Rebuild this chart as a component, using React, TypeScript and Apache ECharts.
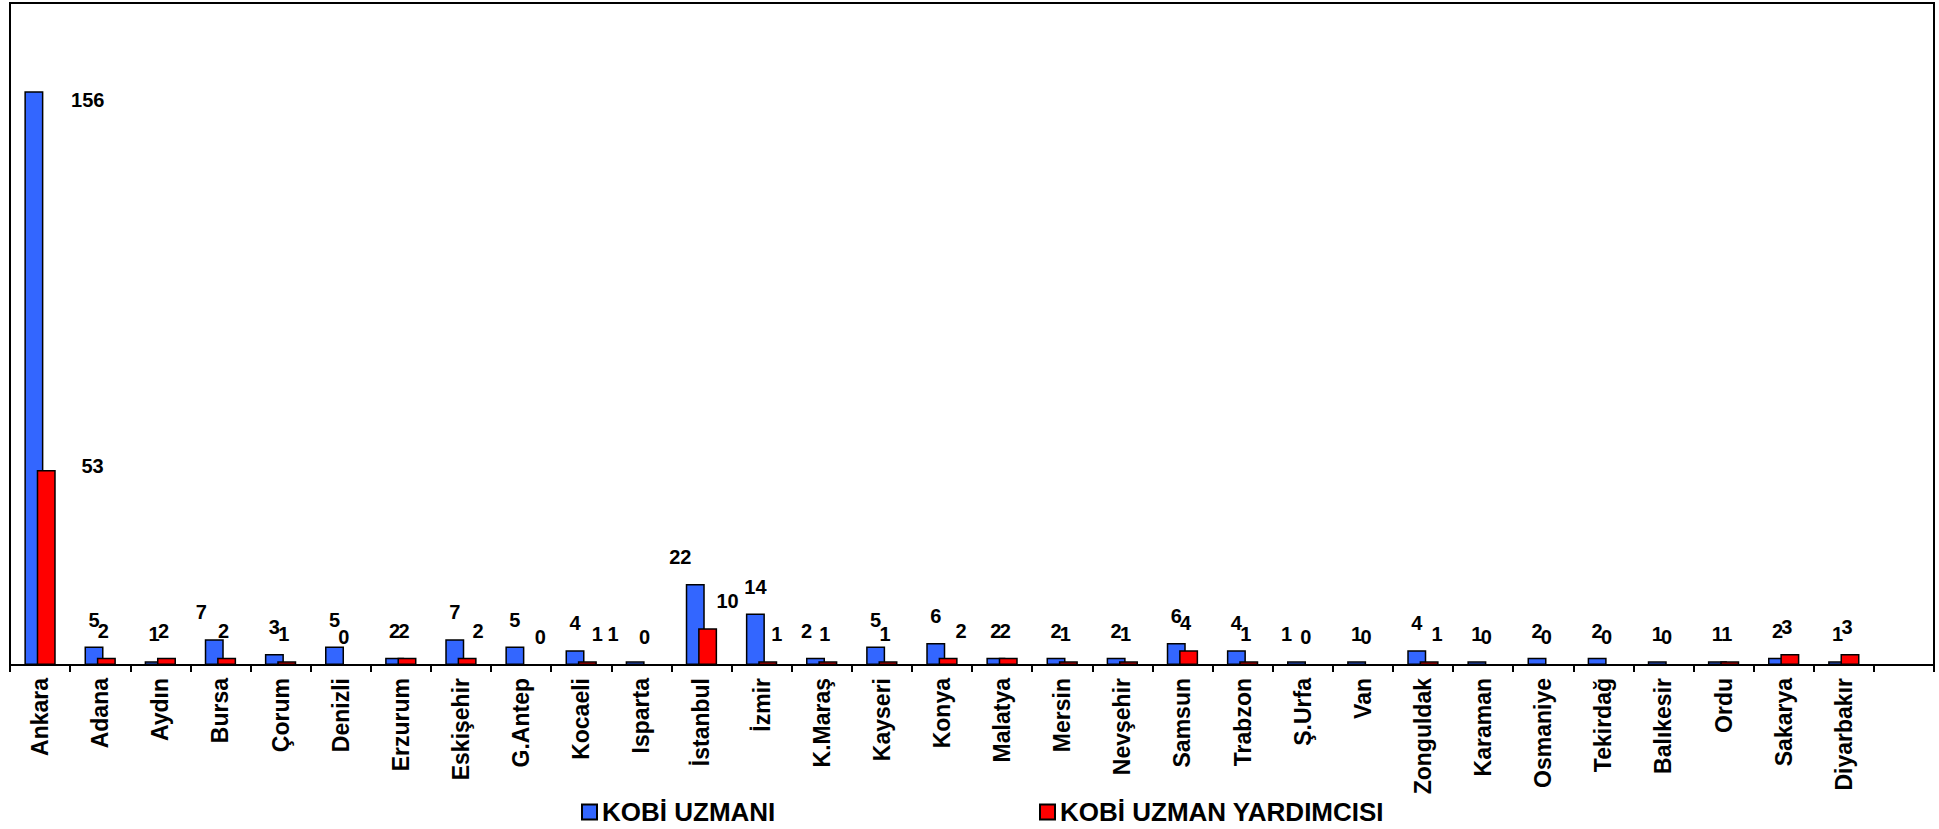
import React, { useEffect, useRef } from "react";
import * as echarts from "echarts";

const cities = [
  "Ankara", "Adana", "Aydın", "Bursa", "Çorum", "Denizli", "Erzurum", "Eskişehir",
  "G.Antep", "Kocaeli", "Isparta", "İstanbul", "İzmir", "K.Maraş", "Kayseri", "Konya",
  "Malatya", "Mersin", "Nevşehir", "Samsun", "Trabzon", "Ş.Urfa", "Van", "Zonguldak",
  "Karaman", "Osmaniye", "Tekirdağ", "Balıkesir", "Ordu", "Sakarya", "Diyarbakır",
];
const kobiUzmani = [156, 5, 1, 7, 3, 5, 2, 7, 5, 4, 1, 22, 14, 2, 5, 6, 2, 2, 2, 6, 4, 1, 1, 4, 1, 2, 2, 1, 1, 2, 1];
const kobiUzmanYardimcisi = [53, 2, 2, 2, 1, 0, 2, 2, 0, 1, 0, 10, 1, 1, 1, 2, 2, 1, 1, 4, 1, 0, 0, 1, 0, 0, 0, 0, 1, 3, 3];

const seriesNames = ["KOBİ UZMANI", "KOBİ UZMAN YARDIMCISI"];

// label nudges (horizontal, px) imitating the original label placement
const blueShift: Record<number, number> = { 3: -13, 10: -22, 11: -15, 13: -9, 21: -10 };
const redShift: Record<number, number> = { 7: 11, 8: 13, 9: 10, 11: 20, 12: 9, 15: 13, 23: 8 };

const FONT = "'Liberation Sans', Arial, Helvetica, sans-serif";

export default function App() {
  const ref = useRef<HTMLDivElement>(null);

  useEffect(() => {
    if (!ref.current) return;
    const chart = echarts.init(ref.current, null, { renderer: "svg" });

    const blueData = kobiUzmani.map((v, i) => {
      if (i === 0) {
        return { value: v, label: { position: [80, -1], align: "right", verticalAlign: "top", offset: [0, 0] } };
      }
      return { value: v, label: { offset: [blueShift[i] ?? 0, 0] } };
    });
    const redData = kobiUzmanYardimcisi.map((v, i) => {
      if (i === 0) {
        return { value: v, label: { position: [67, -4], align: "right", verticalAlign: "middle", offset: [0, 0] } };
      }
      return { value: v, label: { offset: [redShift[i] ?? -3, 0] } };
    });

    const labelStyle = {
      show: true,
      position: "top",
      distance: 17,
      fontSize: 20,
      fontWeight: "bold",
      color: "#000",
      fontFamily: FONT,
    };

    const legendCommon = {
      top: 799,
      padding: 0,
      icon: "rect",
      itemWidth: 15,
      itemHeight: 15,
      itemGap: 6,
      itemTextGap: 6,
      textStyle: { fontSize: 26, fontWeight: "bold", color: "#000", fontFamily: FONT },
    };

    chart.setOption({
      animation: false,
      backgroundColor: "#ffffff",
      textStyle: { fontFamily: FONT },
      grid: {
        left: 10,
        right: 5,
        top: 3,
        bottom: 164,
        show: true,
        borderColor: "#000",
        borderWidth: 2,
        backgroundColor: "transparent",
      },
      legend: [
        { ...legendCommon, data: [seriesNames[0]], left: 581 },
        { ...legendCommon, data: [seriesNames[1]], left: 1039 },
      ],
      xAxis: {
        type: "category",
        data: [...cities, ""],
        axisLine: { lineStyle: { color: "#000", width: 2 } },
        axisTick: { show: true, length: 7, lineStyle: { color: "#000", width: 2 } },
        axisLabel: {
          rotate: 90,
          interval: 0,
          margin: 13,
          fontSize: 23,
          fontWeight: "bold",
          color: "#000",
          fontFamily: FONT,
        },
      },
      yAxis: {
        type: "value",
        min: 0,
        max: 180,
        interval: 20,
        axisLine: { show: false },
        axisTick: { show: false },
        axisLabel: { show: false },
        splitLine: { show: false },
      },
      series: [
        {
          name: seriesNames[0],
          type: "bar",
          barWidth: 19,
          barGap: "-35%",
          data: blueData,
          itemStyle: { color: "#3366FF", borderColor: "#000", borderWidth: 1.5 },
          label: labelStyle,
        },
        {
          name: seriesNames[1],
          type: "bar",
          barWidth: 19,
          barGap: "-35%",
          data: redData,
          itemStyle: { color: "#FF0000", borderColor: "#000", borderWidth: 1.5 },
          label: labelStyle,
        },
      ],
    });

    return () => chart.dispose();
  }, []);

  return (
    <div
      ref={ref}
      style={{ position: "fixed", left: 0, top: 0, width: 1939, height: 829, background: "#fff" }}
    />
  );
}
